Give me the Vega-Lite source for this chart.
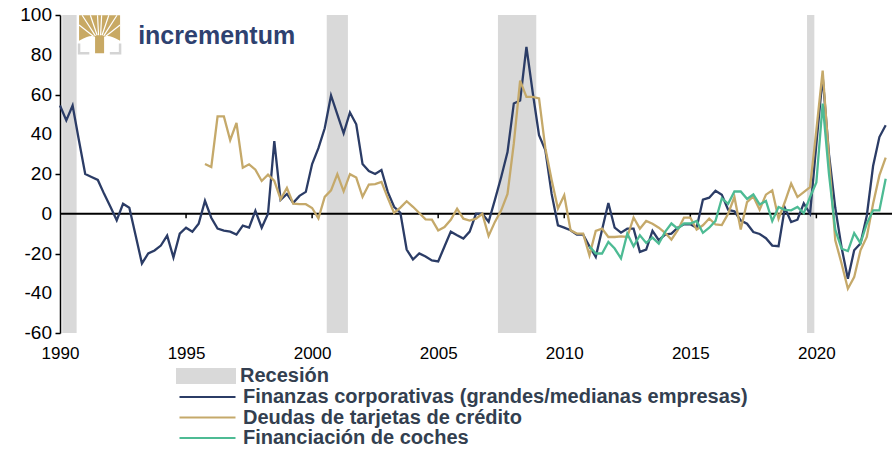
{
  "$schema": "https://vega.github.io/schema/vega-lite/v6.json",
  "width": 832,
  "height": 318,
  "autosize": {"type": "none"},
  "padding": {"left": 60, "top": 15, "right": 0, "bottom": 117},
  "background": "white",
  "config": {
    "view": {"stroke": null},
    "axis": {"labelFont": "Liberation Sans", "labelFontSize": 17, "labelColor": "#000000"}
  },
  "datasets": {
    "rec": [
      {"a": 1990.09, "b": 1990.66, "r": "Recesión"},
      {"a": 2000.58, "b": 2001.42, "r": "Recesión"},
      {"a": 2007.37, "b": 2008.89, "r": "Recesión"},
      {"a": 2019.63, "b": 2019.92, "r": "Recesión"}
    ],
    "ticks": [{"t": 1995}, {"t": 2000}, {"t": 2005}, {"t": 2010}, {"t": 2015}, {"t": 2020}],
    "ylabs": [{"y": -60, "lab": "-60"}, {"y": -40, "lab": "-40"}, {"y": -20, "lab": "-20"}, {"y": 0, "lab": "0"}, {"y": 20, "lab": "20"}, {"y": 40, "lab": "40"}, {"y": 60, "lab": "60"}, {"y": 80, "lab": "80"}, {"y": 100, "lab": "100"}],
    "series": [
      {"t":1990,"s":"A","v":54.5},{"t":1990.25,"s":"A","v":47},{"t":1990.5,"s":"A","v":54.5},{"t":1990.75,"s":"A","v":37},
      {"t":1991,"s":"A","v":20},{"t":1991.25,"s":"A","v":18.5},{"t":1991.5,"s":"A","v":17},{"t":1991.75,"s":"A","v":10},
      {"t":1992,"s":"A","v":3.5},{"t":1992.25,"s":"A","v":-3.3},{"t":1992.5,"s":"A","v":5},{"t":1992.75,"s":"A","v":3},
      {"t":1993,"s":"A","v":-11},{"t":1993.25,"s":"A","v":-25},{"t":1993.5,"s":"A","v":-20},{"t":1993.75,"s":"A","v":-18.5},
      {"t":1994,"s":"A","v":-16},{"t":1994.25,"s":"A","v":-11},{"t":1994.5,"s":"A","v":-22},{"t":1994.75,"s":"A","v":-10},
      {"t":1995,"s":"A","v":-7},{"t":1995.25,"s":"A","v":-9},{"t":1995.5,"s":"A","v":-5},{"t":1995.75,"s":"A","v":6.5},
      {"t":1996,"s":"A","v":-2},{"t":1996.25,"s":"A","v":-7.5},{"t":1996.5,"s":"A","v":-8.5},{"t":1996.75,"s":"A","v":-9},
      {"t":1997,"s":"A","v":-10.5},{"t":1997.25,"s":"A","v":-6},{"t":1997.5,"s":"A","v":-7},{"t":1997.75,"s":"A","v":1.5},
      {"t":1998,"s":"A","v":-7},{"t":1998.25,"s":"A","v":0},{"t":1998.5,"s":"A","v":36.5},{"t":1998.75,"s":"A","v":7},
      {"t":1999,"s":"A","v":10},{"t":1999.25,"s":"A","v":5.5},{"t":1999.5,"s":"A","v":9},{"t":1999.75,"s":"A","v":11},
      {"t":2000,"s":"A","v":25},{"t":2000.25,"s":"A","v":33},{"t":2000.5,"s":"A","v":43},{"t":2000.75,"s":"A","v":59.5},
      {"t":2001,"s":"A","v":50},{"t":2001.25,"s":"A","v":40.5},{"t":2001.5,"s":"A","v":51},{"t":2001.75,"s":"A","v":45},
      {"t":2002,"s":"A","v":25},{"t":2002.25,"s":"A","v":21.5},{"t":2002.5,"s":"A","v":20},{"t":2002.75,"s":"A","v":22},
      {"t":2003,"s":"A","v":11},{"t":2003.25,"s":"A","v":3.5},{"t":2003.5,"s":"A","v":0.5},{"t":2003.75,"s":"A","v":-18},
      {"t":2004,"s":"A","v":-23},{"t":2004.25,"s":"A","v":-20},{"t":2004.5,"s":"A","v":-21.5},{"t":2004.75,"s":"A","v":-23.5},
      {"t":2005,"s":"A","v":-24},{"t":2005.25,"s":"A","v":-16.5},{"t":2005.5,"s":"A","v":-9},{"t":2005.75,"s":"A","v":-10.8},
      {"t":2006,"s":"A","v":-12.5},{"t":2006.25,"s":"A","v":-9},{"t":2006.5,"s":"A","v":0},{"t":2006.75,"s":"A","v":0},
      {"t":2007,"s":"A","v":-4},{"t":2007.25,"s":"A","v":7},{"t":2007.5,"s":"A","v":18.5},{"t":2007.75,"s":"A","v":31},
      {"t":2008,"s":"A","v":55.5},{"t":2008.25,"s":"A","v":57},{"t":2008.5,"s":"A","v":84},{"t":2008.75,"s":"A","v":61},
      {"t":2009,"s":"A","v":39.5},{"t":2009.25,"s":"A","v":32},{"t":2009.5,"s":"A","v":10},{"t":2009.75,"s":"A","v":-5.8},
      {"t":2010,"s":"A","v":-7},{"t":2010.25,"s":"A","v":-8.3},{"t":2010.5,"s":"A","v":-10.5},{"t":2010.75,"s":"A","v":-10.5},
      {"t":2011,"s":"A","v":-16.4},{"t":2011.25,"s":"A","v":-21.7},{"t":2011.5,"s":"A","v":-8},{"t":2011.75,"s":"A","v":5.4},
      {"t":2012,"s":"A","v":-7},{"t":2012.25,"s":"A","v":-9.5},{"t":2012.5,"s":"A","v":-7.5},{"t":2012.75,"s":"A","v":-7.5},
      {"t":2013,"s":"A","v":-19.2},{"t":2013.25,"s":"A","v":-18},{"t":2013.5,"s":"A","v":-8.6},{"t":2013.75,"s":"A","v":-13.3},
      {"t":2014,"s":"A","v":-10.5},{"t":2014.25,"s":"A","v":-10},{"t":2014.5,"s":"A","v":-7},{"t":2014.75,"s":"A","v":-5.3},
      {"t":2015,"s":"A","v":-5.3},{"t":2015.25,"s":"A","v":-7},{"t":2015.5,"s":"A","v":7.1},{"t":2015.75,"s":"A","v":8.1},
      {"t":2016,"s":"A","v":11.6},{"t":2016.25,"s":"A","v":9.6},{"t":2016.5,"s":"A","v":2},{"t":2016.75,"s":"A","v":1.2},
      {"t":2017,"s":"A","v":-3.4},{"t":2017.25,"s":"A","v":-5},{"t":2017.5,"s":"A","v":-9.2},{"t":2017.75,"s":"A","v":-10.2},
      {"t":2018,"s":"A","v":-12.3},{"t":2018.25,"s":"A","v":-16},{"t":2018.5,"s":"A","v":-16.3},{"t":2018.75,"s":"A","v":3},
      {"t":2019,"s":"A","v":-4.2},{"t":2019.25,"s":"A","v":-3},{"t":2019.5,"s":"A","v":5.2},{"t":2019.75,"s":"A","v":0},
      {"t":2020,"s":"A","v":35},{"t":2020.25,"s":"A","v":69},{"t":2020.5,"s":"A","v":30},{"t":2020.75,"s":"A","v":3},
      {"t":2021,"s":"A","v":-17},{"t":2021.25,"s":"A","v":-32.7},{"t":2021.5,"s":"A","v":-18.4},{"t":2021.75,"s":"A","v":-15},
      {"t":2022,"s":"A","v":-1},{"t":2022.25,"s":"A","v":24},{"t":2022.5,"s":"A","v":38.6},{"t":2022.75,"s":"A","v":44.5},

      {"t":1995.75,"s":"B","v":25},
      {"t":1996,"s":"B","v":23.5},{"t":1996.25,"s":"B","v":49},{"t":1996.5,"s":"B","v":49},{"t":1996.75,"s":"B","v":37},
      {"t":1997,"s":"B","v":45.7},{"t":1997.25,"s":"B","v":23.2},{"t":1997.5,"s":"B","v":24.9},{"t":1997.75,"s":"B","v":22.2},
      {"t":1998,"s":"B","v":16.5},{"t":1998.25,"s":"B","v":19.7},{"t":1998.5,"s":"B","v":16.5},{"t":1998.75,"s":"B","v":7.3},
      {"t":1999,"s":"B","v":13},{"t":1999.25,"s":"B","v":5.1},{"t":1999.5,"s":"B","v":4.8},{"t":1999.75,"s":"B","v":4.8},
      {"t":2000,"s":"B","v":2.9},{"t":2000.25,"s":"B","v":-2.4},{"t":2000.5,"s":"B","v":8.5},{"t":2000.75,"s":"B","v":11.8},
      {"t":2001,"s":"B","v":19.9},{"t":2001.25,"s":"B","v":11.3},{"t":2001.5,"s":"B","v":19.9},{"t":2001.75,"s":"B","v":18.2},
      {"t":2002,"s":"B","v":8.5},{"t":2002.25,"s":"B","v":14.7},{"t":2002.5,"s":"B","v":14.9},{"t":2002.75,"s":"B","v":16},
      {"t":2003,"s":"B","v":8},{"t":2003.25,"s":"B","v":0.4},{"t":2003.5,"s":"B","v":3.1},{"t":2003.75,"s":"B","v":6.3},
      {"t":2004,"s":"B","v":3.5},{"t":2004.25,"s":"B","v":0.4},{"t":2004.5,"s":"B","v":-2.8},{"t":2004.75,"s":"B","v":-3},
      {"t":2005,"s":"B","v":-8.4},{"t":2005.25,"s":"B","v":-6.7},{"t":2005.5,"s":"B","v":-3},{"t":2005.75,"s":"B","v":2.5},
      {"t":2006,"s":"B","v":-2.5},{"t":2006.25,"s":"B","v":-3.4},{"t":2006.5,"s":"B","v":-2.5},{"t":2006.75,"s":"B","v":0},
      {"t":2007,"s":"B","v":-11.2},{"t":2007.25,"s":"B","v":-4.1},{"t":2007.5,"s":"B","v":1.7},{"t":2007.75,"s":"B","v":10},
      {"t":2008,"s":"B","v":35.4},{"t":2008.25,"s":"B","v":67},{"t":2008.5,"s":"B","v":58.8},{"t":2008.75,"s":"B","v":58.8},
      {"t":2009,"s":"B","v":58},{"t":2009.25,"s":"B","v":33},{"t":2009.5,"s":"B","v":17},{"t":2009.75,"s":"B","v":2.6},
      {"t":2010,"s":"B","v":9.3},{"t":2010.25,"s":"B","v":-8.3},{"t":2010.5,"s":"B","v":-10},{"t":2010.75,"s":"B","v":-10},
      {"t":2011,"s":"B","v":-20.9},{"t":2011.25,"s":"B","v":-8.6},{"t":2011.5,"s":"B","v":-7.5},{"t":2011.75,"s":"B","v":-11.7},
      {"t":2012,"s":"B","v":-11.7},{"t":2012.25,"s":"B","v":-11.4},{"t":2012.5,"s":"B","v":-11.7},{"t":2012.75,"s":"B","v":-1.9},
      {"t":2013,"s":"B","v":-7.5},{"t":2013.25,"s":"B","v":-3.6},{"t":2013.5,"s":"B","v":-5},{"t":2013.75,"s":"B","v":-7},
      {"t":2014,"s":"B","v":-9.6},{"t":2014.25,"s":"B","v":-13},{"t":2014.5,"s":"B","v":-8.3},{"t":2014.75,"s":"B","v":-1.9},
      {"t":2015,"s":"B","v":-1.9},{"t":2015.25,"s":"B","v":-8},{"t":2015.5,"s":"B","v":-5.8},{"t":2015.75,"s":"B","v":-2.4},
      {"t":2016,"s":"B","v":-5.4},{"t":2016.25,"s":"B","v":-5.7},{"t":2016.5,"s":"B","v":0},{"t":2016.75,"s":"B","v":8.4},
      {"t":2017,"s":"B","v":-7.9},{"t":2017.25,"s":"B","v":5.9},{"t":2017.5,"s":"B","v":8.7},{"t":2017.75,"s":"B","v":2},
      {"t":2018,"s":"B","v":9.6},{"t":2018.25,"s":"B","v":11.8},{"t":2018.5,"s":"B","v":-2.5},{"t":2018.75,"s":"B","v":5.9},
      {"t":2019,"s":"B","v":15.2},{"t":2019.25,"s":"B","v":8.4},{"t":2019.5,"s":"B","v":10.9},{"t":2019.75,"s":"B","v":13.4},
      {"t":2020,"s":"B","v":42},{"t":2020.25,"s":"B","v":72},{"t":2020.5,"s":"B","v":28},{"t":2020.75,"s":"B","v":-13.4},
      {"t":2021,"s":"B","v":-25},{"t":2021.25,"s":"B","v":-37.7},{"t":2021.5,"s":"B","v":-31.9},{"t":2021.75,"s":"B","v":-18.4},
      {"t":2022,"s":"B","v":-11.7},{"t":2022.25,"s":"B","v":5},{"t":2022.5,"s":"B","v":19.3},{"t":2022.75,"s":"B","v":28.2},

      {"t":2011,"s":"C","v":-16.4},{"t":2011.25,"s":"C","v":-20},{"t":2011.5,"s":"C","v":-20},{"t":2011.75,"s":"C","v":-14.2},
      {"t":2012,"s":"C","v":-17.5},{"t":2012.25,"s":"C","v":-22.5},{"t":2012.5,"s":"C","v":-10},{"t":2012.75,"s":"C","v":-16.4},
      {"t":2013,"s":"C","v":-10.8},{"t":2013.25,"s":"C","v":-14.7},{"t":2013.5,"s":"C","v":-12},{"t":2013.75,"s":"C","v":-15},
      {"t":2014,"s":"C","v":-9.1},{"t":2014.25,"s":"C","v":-4.9},{"t":2014.5,"s":"C","v":-7.5},{"t":2014.75,"s":"C","v":-4.9},
      {"t":2015,"s":"C","v":-4.9},{"t":2015.25,"s":"C","v":-3.6},{"t":2015.5,"s":"C","v":-9.6},{"t":2015.75,"s":"C","v":-7},
      {"t":2016,"s":"C","v":-3.6},{"t":2016.25,"s":"C","v":7.8},{"t":2016.5,"s":"C","v":5},{"t":2016.75,"s":"C","v":11.2},
      {"t":2017,"s":"C","v":11.2},{"t":2017.25,"s":"C","v":7.5},{"t":2017.5,"s":"C","v":9.7},{"t":2017.75,"s":"C","v":4.7},
      {"t":2018,"s":"C","v":6.4},{"t":2018.25,"s":"C","v":-3.7},{"t":2018.5,"s":"C","v":3.4},{"t":2018.75,"s":"C","v":2},
      {"t":2019,"s":"C","v":1.7},{"t":2019.25,"s":"C","v":3.4},{"t":2019.5,"s":"C","v":0.3},{"t":2019.75,"s":"C","v":8.4},
      {"t":2020,"s":"C","v":15.7},{"t":2020.25,"s":"C","v":55.4},{"t":2020.5,"s":"C","v":20},{"t":2020.75,"s":"C","v":-8},
      {"t":2021,"s":"C","v":-17.6},{"t":2021.25,"s":"C","v":-18.8},{"t":2021.5,"s":"C","v":-9.7},{"t":2021.75,"s":"C","v":-14.8},
      {"t":2022,"s":"C","v":-5},{"t":2022.25,"s":"C","v":1.7},{"t":2022.5,"s":"C","v":1.7},{"t":2022.75,"s":"C","v":17.6}
    ]
  },
  "layer": [
    {
      "data": {"name": "rec"},
      "mark": {"type": "rect"},
      "encoding": {
        "x": {"field": "a", "type": "quantitative", "scale": {"domain": [1990, 2023], "nice": false, "zero": false},
              "axis": {"values": [1990, 1995, 2000, 2005, 2010, 2015, 2020], "labelExpr": "toString(datum.value)", "title": null, "grid": false, "domain": false, "ticks": false, "tickSize": 0, "labelPadding": 12, "labelFlush": false, "labelOverlap": false}},
        "x2": {"field": "b"},
        "fill": {"field": "r", "type": "nominal", "scale": {"domain": ["Recesión"], "range": ["#d9d9d9"]},
                 "legend": {"orient": "none", "legendX": 116, "legendY": 351, "title": null, "padding": 0,
                            "symbolType": "M-1,-0.27H1V0.27H-1Z", "symbolSize": 3600, "symbolStrokeWidth": 0, "symbolOpacity": 1,
                            "clipHeight": 20, "labelOffset": 4, "labelFont": "Liberation Sans", "labelFontSize": 20,
                            "labelFontWeight": "bold", "labelColor": "#333f50", "labelLimit": 800}}
      }
    },
    {
      "data": {"values": [{}]},
      "mark": {"type": "rule", "color": "#000000", "strokeWidth": 2},
      "encoding": {"y": {"datum": 0, "type": "quantitative", "scale": {"domain": [-60, 100], "nice": false, "zero": false},
              "axis": {"values": [-60, -40, -20, 0, 20, 40, 60, 80, 100], "labels": false, "title": null, "grid": false, "domainColor": "#000000", "domainWidth": 1.5,
                       "tickColor": "#000000", "tickSize": 5, "tickWidth": 1.5}}}
    },
    {
      "data": {"name": "ticks"},
      "mark": {"type": "rule", "color": "#000000", "strokeWidth": 1.5},
      "encoding": {
        "x": {"field": "t", "type": "quantitative"},
        "y": {"datum": 0, "type": "quantitative"},
        "y2": {"datum": -2.3}
      }
    },
    {
      "data": {"name": "ylabs"},
      "mark": {"type": "text", "align": "right", "baseline": "middle", "dx": -8, "font": "Liberation Sans", "fontSize": 19, "color": "#000000"},
      "encoding": {
        "x": {"datum": 1990, "type": "quantitative"},
        "y": {"field": "y", "type": "quantitative"},
        "text": {"field": "lab"}
      }
    },
    {
      "data": {"name": "series"},
      "mark": {"type": "line", "strokeWidth": 2.3},
      "encoding": {
        "x": {"field": "t", "type": "quantitative"},
        "y": {"field": "v", "type": "quantitative"},
        "stroke": {"field": "s", "type": "nominal",
                   "scale": {"domain": ["A", "B", "C"], "range": ["#2b3c66", "#c5a96a", "#4dbb94"]},
                   "legend": {"orient": "none", "legendX": 118, "legendY": 372, "title": null, "padding": 0,
                              "symbolType": "stroke", "symbolSize": 3136, "symbolStrokeWidth": 2.2,
                              "clipHeight": 20, "rowPadding": 0.5, "labelOffset": 6,
                              "labelFont": "Liberation Sans", "labelFontSize": 20, "labelFontWeight": "bold", "labelColor": "#333f50", "labelLimit": 800,
                              "labelExpr": "datum.value == 'A' ? 'Finanzas corporativas (grandes/medianas empresas)' : datum.value == 'B' ? 'Deudas de tarjetas de crédito' : 'Financiación de coches'"}},
        "order": {"field": "t", "type": "quantitative"}
      }
    },
    {
      "data": {"values": [{}]},
      "mark": {"type": "point", "shape": "M-1,-0.93L1,-0.93L1,0.32Q0.45,-0.02 0.22,0.12L0.22,0.93L-0.22,0.93L-0.22,0.12Q-0.45,-0.02 -1,0.32Z", "filled": true, "color": "#c8a964", "opacity": 1, "size": 1681, "strokeWidth": 0},
      "encoding": {"x": {"datum": 1991.57}, "y": {"datum": 90.3}}
    },
    {
      "data": {"values": [{}]},
      "mark": {"type": "point", "shape": "M-0.1,-0.93L-0.05,0.05M0.1,-0.93L0.05,0.05M-0.45,-0.93L-0.12,0.05M0.45,-0.93L0.12,0.05M-0.85,-0.93L-0.2,0.08M0.85,-0.93L0.2,0.08M-1,-0.45L-0.3,0.1M1,-0.45L0.3,0.1", "filled": false, "color": "#ffffff", "opacity": 1, "size": 1681, "strokeWidth": 1.2},
      "encoding": {"x": {"datum": 1991.57}, "y": {"datum": 90.3}}
    },
    {
      "data": {"values": [{}]},
      "mark": {"type": "point", "shape": "M-1,0.45L-1,0.93L-0.5,0.93M0.5,0.93L1,0.93L1,0.45", "filled": false, "color": "#d4d4d4", "opacity": 1, "size": 1681, "strokeWidth": 2.5},
      "encoding": {"x": {"datum": 1991.57}, "y": {"datum": 90.3}}
    },
    {
      "data": {"values": [{}]},
      "mark": {"type": "text", "text": "incrementum", "font": "Liberation Sans", "fontSize": 25, "fontWeight": "bold", "color": "#2e4170", "align": "left", "baseline": "alphabetic"},
      "encoding": {"x": {"datum": 1993.1}, "y": {"datum": 85.3}}
    }
  ]
}
